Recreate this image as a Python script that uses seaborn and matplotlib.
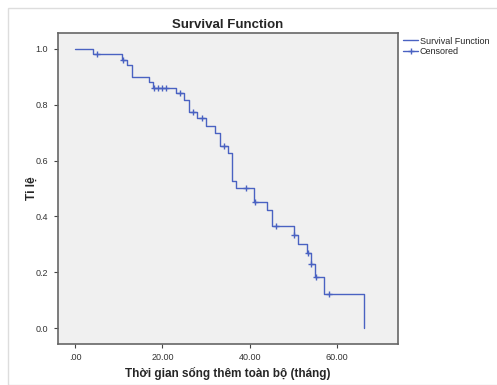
import matplotlib
matplotlib.use("Agg")
import matplotlib.pyplot as plt
import seaborn as sns
import pandas as pd
from matplotlib.lines import Line2D
from matplotlib.patches import Rectangle

# step points of the survival curve (time in months, survival proportion)
times = [0.0, 4.0, 10.8, 12.0, 13.0, 16.9, 17.9, 23.0, 24.9, 26.0, 28.0, 29.9,
         32.1, 33.1, 35.0, 36.0, 36.9, 41.0, 44.0, 45.1, 50.0, 51.0, 53.1,
         54.1, 55.0, 56.9, 66.1]
surv = [1.000, 0.981, 0.961, 0.942, 0.901, 0.883, 0.861, 0.841, 0.817, 0.773,
        0.752, 0.724, 0.698, 0.652, 0.626, 0.527, 0.501, 0.450, 0.423, 0.365,
        0.333, 0.301, 0.268, 0.229, 0.184, 0.122, 0.000]

# censored observations
cens_times = [5.0, 10.9, 18.0, 18.9, 19.8, 20.9, 24.0, 27.0, 29.1, 34.0,
              39.1, 41.1, 46.0, 50.1, 53.2, 54.0, 55.1, 58.0]
cens_surv = [0.981, 0.961, 0.861, 0.861, 0.861, 0.861, 0.841, 0.773, 0.752,
             0.652, 0.501, 0.450, 0.365, 0.333, 0.268, 0.229, 0.184, 0.122]

xticks = [0, 20, 40, 60]
xticklabels = [".00", "20.00", "40.00", "60.00"]
yticks = [0.0, 0.2, 0.4, 0.6, 0.8, 1.0]

df_curve = pd.DataFrame({"time": times, "surv": surv})
df_cens = pd.DataFrame({"time": cens_times, "surv": cens_surv})

sns.set_style("white")
plt.rcParams["font.family"] = ["Liberation Sans", "DejaVu Sans"]

blue = "#4a62c2"

fig = plt.figure(figsize=(4.97, 3.85), dpi=100)
ax = fig.add_axes([0.1167, 0.1073, 0.6841, 0.8062])
ax.set_facecolor("#f0f0f0")

sns.lineplot(data=df_curve, x="time", y="surv", drawstyle="steps-post",
             color=blue, linewidth=1.0, ax=ax, legend=False)
sns.scatterplot(data=df_cens, x="time", y="surv", marker="+", s=22,
                color=blue, linewidth=1.0, ax=ax, legend=False, zorder=3)

ax.set_xlim(-3.9, 73.9)
ax.set_ylim(-0.056, 1.056)
ax.set_xticks(xticks)
ax.set_xticklabels(xticklabels)
ax.set_yticks(yticks)
ax.set_yticklabels([f"{v:.1f}" for v in yticks])
ax.tick_params(axis="both", direction="out", length=3, width=0.8,
               color="#444444", labelsize=6.5, labelcolor="#333333", pad=4,
               bottom=True, left=True)

for sp in ax.spines.values():
    sp.set_color("#666666")
    sp.set_linewidth(1.2)

ax.set_title("Survival Function", fontsize=9.5, fontweight="bold", pad=4)
ax.set_xlabel("Thời gian sống thêm toàn bộ (tháng)", fontsize=8.5,
              fontweight="bold")
ax.set_ylabel("Tỉ lệ", fontsize=8.5, fontweight="bold")
ax.xaxis.set_label_coords(0.5, -0.075)
ax.yaxis.set_label_coords(-0.06, 0.5)

handles = [Line2D([], [], color=blue, linewidth=1.0),
           Line2D([], [], color=blue, linewidth=1.0, marker="+", markersize=5)]
ax.legend(handles, ["Survival Function", "Censored"], loc="upper left",
          bbox_to_anchor=(1.0, 1.007), frameon=False, fontsize=6.5,
          handlelength=1.6, handletextpad=0.2, labelspacing=0.15,
          borderaxespad=0.2)

# light outer frame around the chart
fig.patches.append(Rectangle((8 / 497, 0), 1, 1 - 8 / 385, transform=fig.transFigure,
                             fill=False, edgecolor="#dddddd", linewidth=1.0))

fig.savefig("out.png", dpi=100)
